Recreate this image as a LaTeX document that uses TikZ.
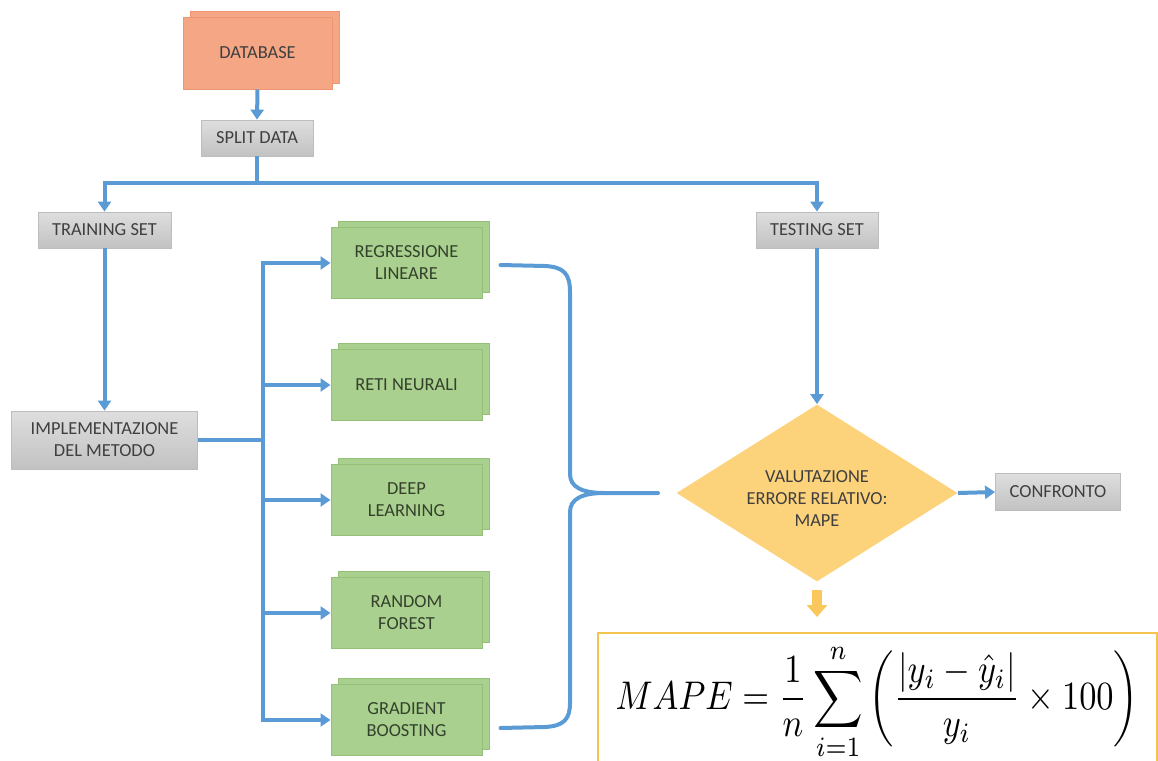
\documentclass[tikz,border=0pt]{standalone}
\usepackage{fontspec}
\setmainfont{Carlito}
\usetikzlibrary{arrows.meta,shapes.geometric,shadows,calc}

\definecolor{flowblue}{HTML}{5B9BD5}
\definecolor{greytop}{HTML}{DEDEDE}
\definecolor{greybot}{HTML}{C2C2C2}
\definecolor{greyedge}{HTML}{BDBDBD}
\definecolor{inkdark}{HTML}{3F3F3F}
\definecolor{mlgreen}{HTML}{A9D08E}
\definecolor{mlgreenedge}{HTML}{94C177}
\definecolor{inkgreen}{HTML}{34412C}
\definecolor{dbfill}{HTML}{F5A785}
\definecolor{dbedge}{HTML}{EE9672}
\definecolor{evalfill}{HTML}{FCD27B}
\definecolor{formulaedge}{HTML}{F4C54E}
\definecolor{hintarrow}{HTML}{FAC75C}

\tikzset{
  flowline/.style={draw=flowblue, line width=2pt},
  flowarrow/.style={flowline, -{Triangle[width=6.5pt,length=5pt]}},
  greybox/.style={rectangle, top color=greytop, bottom color=greybot,
    draw=greyedge, line width=0.4pt, text=inkdark, align=center, inner sep=1pt},
  methodbox/.style={rectangle, fill=mlgreen, draw=mlgreenedge, line width=0.5pt,
    minimum width=75.5pt, minimum height=35.5pt, align=center, text=inkgreen,
    copy shadow={shadow xshift=3.5pt, shadow yshift=3pt, fill=mlgreen, draw=mlgreenedge}},
  sourcebox/.style={rectangle, fill=dbfill, draw=dbedge, line width=0.5pt,
    minimum width=74.5pt, minimum height=36pt, align=center, text=inkdark,
    copy shadow={shadow xshift=3.5pt, shadow yshift=3pt, fill=dbfill, draw=dbedge}},
  evalbox/.style={diamond, fill=evalfill, inner sep=0pt, minimum width=140.5pt,
    minimum height=88.5pt},
  evaltext/.style={align=center, text=inkdark, inner sep=0pt},
}

\begin{document}
\begin{tikzpicture}[x=0.5pt, y=-0.5pt, font=\fontsize{9.2}{11}\selectfont]
\useasboundingbox (0,0) rectangle (1158,761);

% data preparation
\node[sourcebox] (db) at (257.5,53) {DATABASE};
\node[greybox, minimum width=56pt, minimum height=18pt] (split) at (257,138) {SPLIT DATA};
\node[greybox, minimum width=66.5pt, minimum height=18pt] (train) at (104.5,230) {TRAINING SET};
\node[greybox, minimum width=61pt, minimum height=18pt] (test) at (817,230) {TESTING SET};
\node[greybox, minimum width=93pt, minimum height=29pt] (impl) at (104.5,440)
  {IMPLEMENTAZIONE\\DEL METODO};

% methods
\node[methodbox] (reg) at (406.5,263) {REGRESSIONE\\LINEARE};
\node[methodbox] (nn)  at (406.5,385) {RETI NEURALI};
\node[methodbox] (dl)  at (406.5,500) {DEEP\\LEARNING};
\node[methodbox] (rf)  at (406.5,613) {RANDOM\\FOREST};
\node[methodbox] (gb)  at (406.5,720) {GRADIENT\\BOOSTING};

% evaluation
\node[evalbox] (val) at (817,493) {};
\node[evaltext] (valtext) at (817,499) {VALUTAZIONE\\ERRORE RELATIVO:\\MAPE};
\node[greybox, minimum width=62.5pt, minimum height=18.5pt] (conf) at (1058,492) {CONFRONTO};

\node[draw=formulaedge, line width=0.8pt, minimum width=279.5pt, minimum height=69pt,
  anchor=north west, inner sep=0pt] (formula) at (597,632)
  {\fontsize{10}{12}\selectfont\scalebox{1.72}[2.0]{$\displaystyle
   MAPE=\frac{1}{n}\sum_{i=1}^{n}\left(\frac{|y_i-\hat{y}_i|}{y_i}\times 100\right)$}};

% connectors
\coordinate (hub) at (257,183);
\coordinate (bus) at (263,440);
\coordinate (tip) at (658,493);

\draw[flowarrow] (db.south) -- (split.north);
\draw[flowline] (split.south) -- (hub);
\draw[flowarrow] (hub) -| (train.north);
\draw[flowarrow] (hub) -| (test.north);
\draw[flowarrow] (train.south) -- (impl.north);
\draw[flowline] (impl.east) -- (bus);
\foreach \m in {reg,nn,dl,rf,gb}
  \draw[flowarrow] (bus) |- (\m.west);
\draw[flowarrow] (test.south) -- (val.north);
\draw[flowarrow] (val.east) -- (conf.west);

% brace gathering the methods
\draw[flowline, line cap=round] ($(reg.east)+(18,2)$) -- (545,266)
  .. controls (563,267) and (570,273) .. (570,292) -- (570,474)
  .. controls (570,487) and (582,493) .. (604,493) -- (tip);
\draw[flowline, line cap=round] ($(gb.east)+(18,8)$) -- (545,727)
  .. controls (563,726) and (570,720) .. (570,703) -- (570,512)
  .. controls (570,499) and (582,493) .. (604,493);

% hint towards the formula
\draw[draw=hintarrow, line width=5pt, -{Triangle[width=10pt,length=6pt]}]
  ([yshift=-4pt]val.south) -- ([yshift=7.5pt]val.south |- formula.north);
\end{tikzpicture}
\end{document}
